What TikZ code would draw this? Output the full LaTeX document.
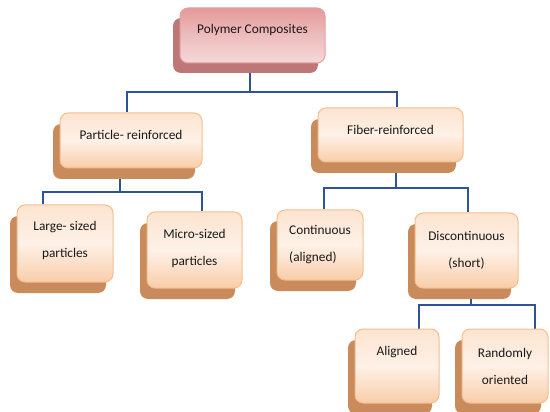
\documentclass[tikz,border=0pt]{standalone}
\usepackage{fontspec}
\setmainfont{Carlito}
\usetikzlibrary{shadows,backgrounds}
\definecolor{conncol}{HTML}{2F5496}
\definecolor{peachtop}{HTML}{FCE4D0}
\definecolor{peachmid}{HTML}{FEF1E7}
\definecolor{peachbot}{HTML}{F9CDA9}
\definecolor{peachborder}{HTML}{F6BD8C}
\definecolor{peachshadow}{HTML}{C98A5C}
\definecolor{pinktop}{HTML}{E49A9A}
\definecolor{pinkmid}{HTML}{EDBDBD}
\definecolor{pinkbot}{HTML}{F5D8D8}
\definecolor{pinkborder}{HTML}{E4A0A0}
\definecolor{pinkshadow}{HTML}{BF7676}
\newcommand\liftup[2]{\raisebox{#1}[\height][\depth]{#2}}
\tikzset{
  boxbase/.style={rectangle, rounded corners=8pt, line width=1pt, align=center,
    inner sep=2pt, text=black!90,
    font=\fontsize{13.3}{27}\selectfont},
  peachbox/.style={boxbase, draw=peachborder, top color=peachtop, bottom color=peachbot, middle color=peachmid,
    general shadow={fill=peachshadow, shadow xshift=-7pt, shadow yshift=-11pt}},
  pinkbox/.style={boxbase, draw=pinkborder, top color=pinktop, bottom color=pinkbot, middle color=pinkmid,
    general shadow={fill=pinkshadow, shadow xshift=-7pt, shadow yshift=-10pt}},
  conn/.style={draw=conncol, line width=2pt}
}
\begin{document}
\begin{tikzpicture}[x=1pt,y=-1pt]
\useasboundingbox (0,0) rectangle (550,412);
\node[pinkbox, minimum width=145pt, minimum height=55pt] (pc) at (252.5,35.5) {\liftup{5.5pt}{Polymer Composites}};
\node[peachbox, minimum width=142pt, minimum height=55pt] (pr) at (131,140.5) {\liftup{5.5pt}{Particle- reinforced}};
\node[peachbox, minimum width=145pt, minimum height=54pt] (fr) at (390.5,135) {\liftup{5pt}{Fiber-reinforced}};
\node[peachbox, minimum width=96pt, minimum height=77pt] (lg) at (65,243.5) {\liftup{3.5pt}{Large- sized}\\\liftup{3.5pt}{particles}};
\node[peachbox, minimum width=95pt, minimum height=76pt] (mi) at (194.5,250) {\liftup{2pt}{Micro-sized}\\\liftup{2pt}{particles}};
\node[peachbox, minimum width=86pt, minimum height=70pt, align=left] (co) at (320,245) {Continuous\\(aligned)};
\node[peachbox, minimum width=103pt, minimum height=75pt] (di) at (466.5,250.5) {Discontinuous\\(short)};
\node[peachbox, minimum width=84pt, minimum height=74pt] (al) at (397,366) {\liftup{14pt}{Aligned}};
\node[peachbox, minimum width=86pt, minimum height=74pt] (ra) at (505,366) {Randomly\\oriented};
\coordinate (j1) at (250,92);
\coordinate (j2) at (120,192);
\coordinate (j3) at (396,188);
\coordinate (j4) at (471,305);
\begin{scope}[on background layer]
\draw[conn] ([xshift=-2.5pt]pc.south) -- (j1);
\draw[conn] ([xshift=-4pt]pr.north) |- (j1) -| ([xshift=6pt]fr.north);
\draw[conn] ([xshift=-11pt]pr.south) -- (j2);
\draw[conn] ([xshift=-22pt]lg.north) |- (j2) -| ([xshift=7.5pt]mi.north);
\draw[conn] ([xshift=5.5pt]fr.south) -- (j3);
\draw[conn] ([xshift=4pt]co.north) |- (j3) -| ([xshift=1.5pt]di.north);
\draw[conn] ([xshift=4.5pt]di.south) -- (j4);
\draw[conn] ([xshift=22pt]al.north) |- (j4) -| ([xshift=30pt]ra.north);
\end{scope}
\end{tikzpicture}
\end{document}
